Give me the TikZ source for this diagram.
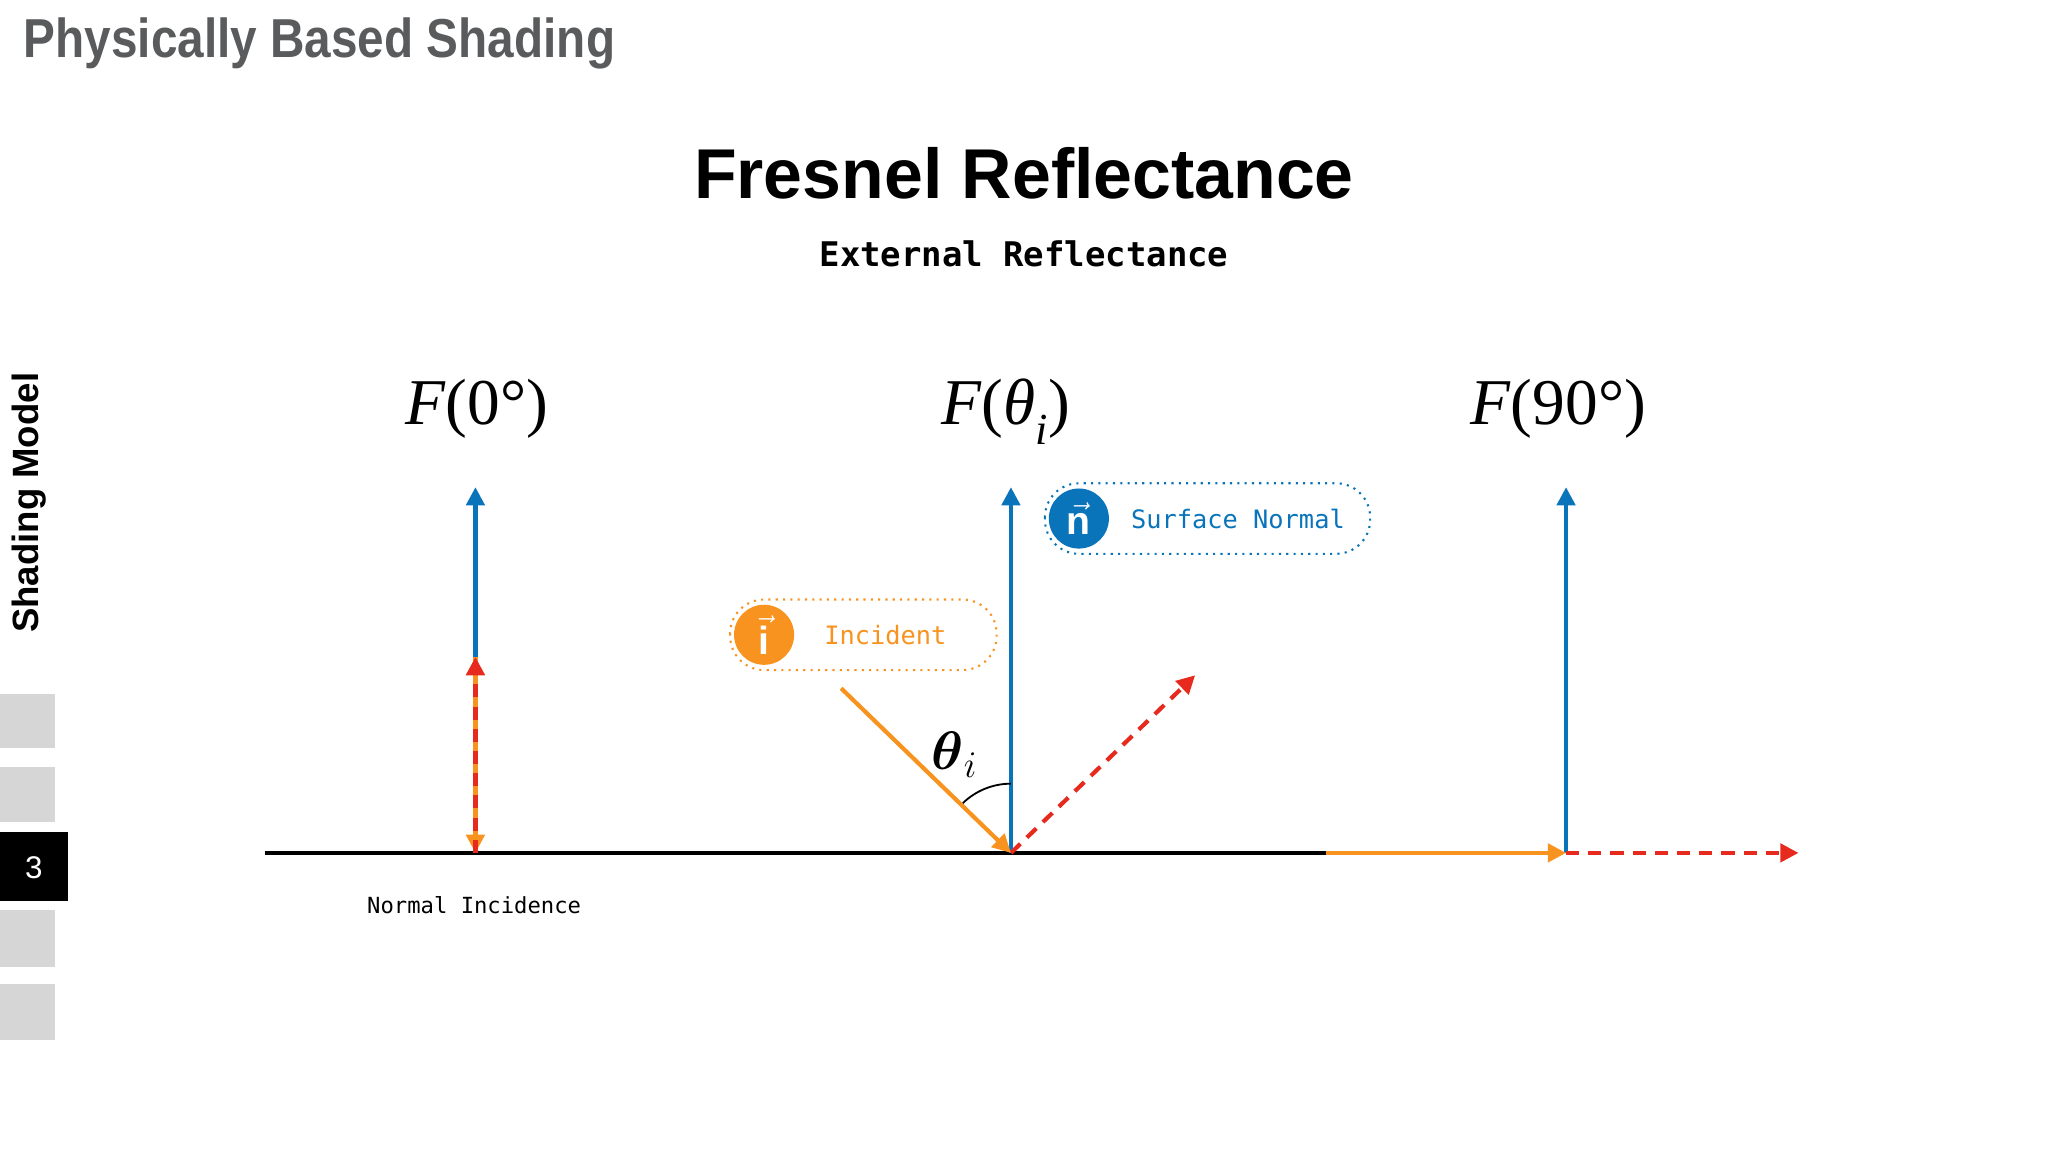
\documentclass[tikz,border=0pt]{standalone}
\usepackage{amsmath}
\usepackage{fontspec}
\setmainfont{Liberation Sans}
\newfontfamily\monof{DejaVu Sans Mono}
\newfontfamily\tms{Liberation Serif}
\usetikzlibrary{arrows.meta,calc}
\definecolor{cblue}{HTML}{0A74BA}
\definecolor{corange}{HTML}{F7931E}
\definecolor{cred}{HTML}{E62A1E}
\definecolor{cgray}{HTML}{5A5B5D}
\definecolor{cbox}{HTML}{D6D6D6}
\tikzset{
  ray/.style={line width=1.6pt,-{Triangle[length=7pt,width=7pt]}},
  dray/.style={line width=1.6pt,dash pattern=on 5pt off 3.5pt,-{Triangle[length=7pt,width=7pt]}},
  fnlab/.style={font=\tms\fontsize{25}{28}\selectfont},
  tag/.style={dotted,line width=0.8pt,rounded corners=13pt},
  badge/.style={circle,minimum size=23pt,inner sep=0pt,text=white,font=\bfseries\fontsize{15}{15}\selectfont},
  side/.style={fill=cbox,draw=none}
}
\begin{document}
\begin{tikzpicture}[x=0.5pt,y=-0.5pt]
\useasboundingbox (0,0) rectangle (1568,882);
% header
\node[anchor=west,text=cgray,font=\bfseries\fontsize{21}{24}\selectfont,xscale=0.87] (hdr) at (12,33) {Physically Based Shading};
\node[font=\bfseries\fontsize{27}{30}\selectfont,xscale=0.99] (title) at (784,133) {Fresnel Reflectance};
\node[font=\monof\bfseries\fontsize{13}{15}\selectfont] (sub) at (784,194) {External Reflectance};
% sidebar
\node[rotate=90,font=\bfseries\fontsize{14}{16}\selectfont] (sm) at (22,385) {Shading Model};
\fill[side] (0,531) rectangle (42,573);
\fill[side] (0,587) rectangle (42,629);
\fill[black] (0,637) rectangle (52,690);
\node[text=white,font=\fontsize{12}{14}\selectfont] (num) at (26,664) {3};
\fill[side] (0,697) rectangle (42,740);
\fill[side] (0,753) rectangle (42,796);
% labels
\node[fnlab] (f0) at (365,313) {\textit{F}(0°)};
\node[fnlab] (fi) at (770,315) {\textit{F}(\textit{θ}\raisebox{-0.3em}{\fontsize{17}{17}\selectfont\textit{i}})};
\node[fnlab] (f90) at (1193,313) {\textit{F}(90°)};
% coordinates
\coordinate (sl) at (203,653);
\coordinate (sm1) at (1015,653);
\coordinate (p0) at (364,653);
\coordinate (p0m) at (364,503);
\coordinate (p0t) at (364,373);
\coordinate (pi) at (774,653);
\coordinate (pit) at (774,373);
\coordinate (ist) at (644,527);
\coordinate (rend) at (915,517);
\coordinate (p90) at (1199,653);
\coordinate (p90t) at (1199,373);
\coordinate (rend2) at (1377,653);
% surface
\draw[line width=1.6pt] (sl) -- (sm1);
% left
\draw[ray,cblue] (p0m) -- (p0t);
\draw[line width=1.6pt,corange,-{Triangle[length=7pt,width=7pt]}] (p0m) -- (p0);
\draw[dray,cred] (p0) -- (p0m);
% middle
\draw[ray,cblue] (pi) -- (pit);
\draw[dray,cred] (pi) -- (rend);
\draw[ray,corange] (ist) -- (pi);
\draw[line width=0.7pt] ($(pi)+(0,-53)$) arc[start angle=90,end angle=134,radius=26.5pt];
\node[font=\fontsize{20}{22}\selectfont] (th) at (731,578) {$\boldsymbol{\theta}_i$};
% right
\draw[ray,cblue] (p90) -- (p90t);
\draw[ray,corange] (sm1) -- (p90);
\draw[dray,cred] (p90) -- (rend2);
% tags
\draw[tag,cblue] (800,370) rectangle (1049,424);
\node[badge,fill=cblue] (nb) at (826,397) {$\vec{\mbox{n}}$};
\node[anchor=west,text=cblue,font=\monof\fontsize{9.7}{11}\selectfont] (snt) at (859,397) {Surface Normal};
\draw[tag,corange] (559,459) rectangle (763,513);
\node[badge,fill=corange] (ib) at (585,486) {$\vec{\mbox{i}}$};
\node[anchor=west,text=corange,font=\monof\fontsize{9.7}{11}\selectfont] (inct) at (624,486) {Incident};
\node[font=\monof\fontsize{8.5}{10}\selectfont] (ni) at (363,693) {Normal Incidence};
\end{tikzpicture}
\end{document}
